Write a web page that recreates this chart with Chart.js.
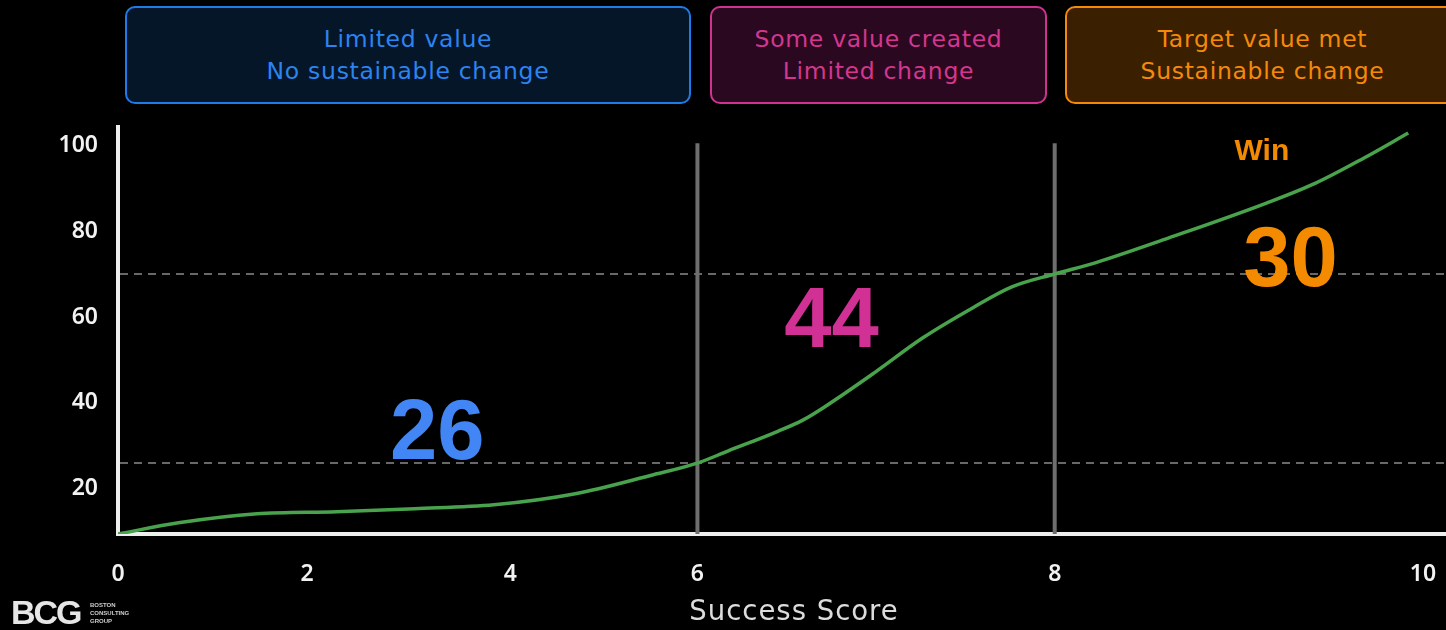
<!DOCTYPE html>
<html>
<head>
<meta charset="utf-8">
<script src="https://cdn.jsdelivr.net/npm/chart.js@4/dist/chart.umd.min.js"></script>
<style>
  html, body { margin: 0; padding: 0; background: #000; }
  #wrap { position: relative; width: 1446px; height: 630px; overflow: hidden; background: #000; }
  #chart { position: absolute; left: 0; top: 0; }
  .box { position: absolute; top: 6px; height: 98px; box-sizing: border-box; border: 2px solid; border-radius: 10px;
         display: flex; flex-direction: column; justify-content: center; align-items: center;
         font-family: "DejaVu Sans", sans-serif; font-weight: 400; font-size: 23.5px; line-height: 32px; letter-spacing: 0.7px; }
  #b1 { left: 125px; width: 566px; background: #061629; border-color: #1f7be8; color: #2b84f0; }
  #b2 { left: 710px; width: 337px; background: #2a0920; border-color: #cf338f; color: #d4368f; }
  #b3 { left: 1065px; width: 395px; background: #3a2000; border-color: #f5890a; color: #f5890a; }
  #logo { position: absolute; left: 11px; top: 593px; font-family: "Liberation Sans", Arial, sans-serif; font-weight: 700;
          font-size: 34px; letter-spacing: -2px; color: #e6e6e6; }
  #logo2 { position: absolute; left: 90px; top: 601px; font-family: "Liberation Sans", Arial, sans-serif; font-weight: 700;
           font-size: 6px; line-height: 8px; color: #cfcfcf; }
</style>
</head>
<body>
<div id="wrap">
  <canvas id="chart" width="1446" height="630"></canvas>
  <div class="box" id="b1"><div>Limited value</div><div>No sustainable change</div></div>
  <div class="box" id="b2"><div>Some value created</div><div>Limited change</div></div>
  <div class="box" id="b3"><div>Target value met</div><div>Sustainable change</div></div>
  <div id="logo">BCG</div>
  <div id="logo2">BOSTON<br>CONSULTING<br>GROUP</div>
</div>
<script>
// ---------------- data ----------------
const successScores = [0, 0.64, 1.47, 2.29, 3.06, 3.84, 4.68, 5.53, 6.0, 6.17, 6.45, 6.59, 6.72, 6.99, 7.26, 7.54, 7.76, 8.0, 8.22, 8.62, 9.15, 9.42, 9.68, 9.92];
const cumulativeShare = [9.5, 12.1, 14.2, 14.7, 15.4, 16.3, 18.8, 23.3, 26.0, 28.8, 33.4, 36.0, 39.3, 47.0, 55.1, 62.1, 67.0, 70.0, 72.6, 78.4, 86.5, 91.2, 97.0, 102.8];
const xTickValues = [0, 2, 4, 6, 8, 10];
const yTickValues = [20, 40, 60, 80, 100];
const zoneBoundaryScores = [6, 8];
const zoneThresholds = [26, 70];
const zoneShares = [26, 44, 30];
const zoneColors = ['#4285f4', '#d13194', '#f38a00'];
const winLabel = 'Win';
const xTitle = 'Success Score';

// ---------------- layout (axis breakpoints, label anchors) ----------------
const xBreakValues = [0, 2, 4, 6, 8, 10];
const xBreakFractions = [0, 0.14243, 0.29540, 0.43632, 0.70535, 0.98267];
const shareLabelAnchors = [[3.28, 34.0], [6.75, 60.2], [9.28, 74.2]];
const winAnchor = [9.125, 99.1];

class PiecewiseScale extends Chart.LinearScale {
  static id = 'piecewise';
  static defaults = Chart.LinearScale.defaults;
  _frac(v) {
    const b = xBreakValues, f = xBreakFractions;
    let i = 1;
    while (i < b.length - 1 && v > b[i]) i++;
    const t = (v - b[i - 1]) / (b[i] - b[i - 1]);
    return f[i - 1] + t * (f[i] - f[i - 1]);
  }
  getPixelForValue(v) {
    if (v === null || v === undefined || isNaN(v)) return NaN;
    return this.getPixelForDecimal(this._frac(v));
  }
  getValueForPixel(p) {
    const d = this.getDecimalForPixel(p);
    const b = xBreakValues, f = xBreakFractions;
    let i = 1;
    while (i < f.length - 1 && d > f[i]) i++;
    const t = (d - f[i - 1]) / (f[i] - f[i - 1]);
    return b[i - 1] + t * (b[i] - b[i - 1]);
  }
  _calculatePadding() {
    this.paddingLeft = 0; this.paddingRight = 0; this.paddingTop = 0; this.paddingBottom = 0;
  }
}
Chart.register(PiecewiseScale);

const overlay = {
  id: 'overlay',
  beforeDatasetsDraw(chart) {
    const { ctx, chartArea: a, scales: { x, y } } = chart;
    ctx.save();
    ctx.strokeStyle = '#686868';
    ctx.lineWidth = 2;
    ctx.setLineDash([8, 6]);
    zoneThresholds.forEach(v => {
      const py = Math.round(y.getPixelForValue(v));
      ctx.beginPath(); ctx.moveTo(a.left + 2, py); ctx.lineTo(a.right, py); ctx.stroke();
    });
    ctx.setLineDash([]);
    ctx.strokeStyle = '#6e6e6e';
    ctx.lineWidth = 4;
    zoneBoundaryScores.forEach(s => {
      const px = x.getPixelForValue(s);
      ctx.beginPath(); ctx.moveTo(px, y.getPixelForValue(100.4)); ctx.lineTo(px, a.bottom); ctx.stroke();
    });
    ctx.restore();
  },
  afterDatasetsDraw(chart) {
    const { ctx, scales: { x, y } } = chart;
    ctx.save();
    ctx.textAlign = 'center';
    ctx.textBaseline = 'alphabetic';
    const big = 85;
    ctx.font = 'bold ' + big + 'px "Liberation Sans", Arial, sans-serif';
    zoneShares.forEach((s, i) => {
      const [sx, sv] = shareLabelAnchors[i];
      ctx.fillStyle = zoneColors[i];
      ctx.fillText(String(s), x.getPixelForValue(sx), y.getPixelForValue(sv) + big * 0.358);
    });
    const ws = 30;
    ctx.font = 'bold ' + ws + 'px "Liberation Sans", Arial, sans-serif';
    ctx.fillStyle = zoneColors[2];
    ctx.fillText(winLabel, x.getPixelForValue(winAnchor[0]), y.getPixelForValue(winAnchor[1]) + ws * 0.358);
    // axis title
    ctx.font = '400 27.5px "DejaVu Sans", sans-serif';
    ctx.letterSpacing = '1px';
    ctx.fillStyle = '#dcdcdc';
    ctx.fillText(xTitle, 794, 620);
    ctx.restore();
  }
};

new Chart(document.getElementById('chart'), {
  type: 'line',
  data: {
    datasets: [{
      data: successScores.map((s, i) => ({ x: s, y: cumulativeShare[i] })),
      borderColor: '#48a34c',
      borderWidth: 3.5,
      pointRadius: 0,
      cubicInterpolationMode: 'monotone',
      fill: false
    }]
  },
  options: {
    responsive: false,
    animation: false,
    devicePixelRatio: 1,
    layout: { padding: { top: 127, left: 0, right: 0, bottom: 0 } },
    plugins: { legend: { display: false }, tooltip: { enabled: false } },
    scales: {
      x: {
        type: 'piecewise',
        min: 0,
        max: 10.125,
        afterBuildTicks: s => { s.ticks = xTickValues.map(v => ({ value: v })); },
        afterFit: s => { s.height = 96; },
        grid: { display: false, drawTicks: false },
        border: { display: true, color: '#eeeeee', width: 4 },
        ticks: { color: '#f2f2f2', padding: 27, maxRotation: 0, autoSkip: false,
                 font: { family: '"Noto Sans", sans-serif', size: 23, weight: 600 } }
      },
      y: {
        type: 'linear',
        min: 9.5,
        max: 104.2,
        afterBuildTicks: s => { s.ticks = yTickValues.map(v => ({ value: v })); },
        afterFit: s => { s.width = 118; },
        grid: { display: false, drawTicks: false },
        border: { display: true, color: '#eeeeee', width: 4 },
        ticks: { color: '#f2f2f2', padding: 20,
                 font: { family: '"Noto Sans", sans-serif', size: 23, weight: 600 } }
      }
    }
  },
  plugins: [overlay]
});
</script>
</body>
</html>
